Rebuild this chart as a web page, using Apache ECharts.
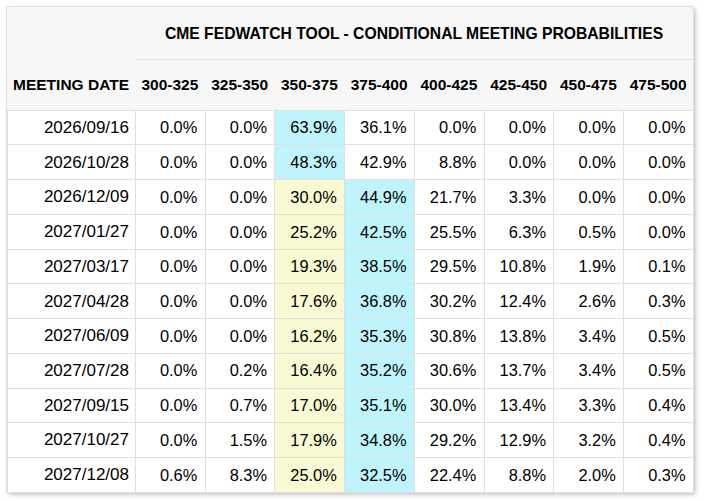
<!DOCTYPE html>
<html>
<head>
<meta charset="utf-8">
<script src="https://cdn.jsdelivr.net/npm/echarts@6/dist/echarts.min.js"></script>
<style>
html, body { margin: 0; padding: 0; background: #fff; }
#chart { width: 707px; height: 501px; }
</style>
</head>
<body>
<div id="chart"></div>
<script>
var title = 'CME FEDWATCH TOOL - CONDITIONAL MEETING PROBABILITIES';
var dateHeader = 'MEETING DATE';
var ranges = ['300-325', '325-350', '350-375', '375-400', '400-425', '425-450', '450-475', '475-500'];
var currentRange = '350-375';
var dates = [
    '2026/09/16', '2026/10/28', '2026/12/09', '2027/01/27', '2027/03/17', '2027/04/28',
    '2027/06/09', '2027/07/28', '2027/09/15', '2027/10/27', '2027/12/08'
];
// one row per meeting, one value per range (percent)
var probabilities = [
    [0.0, 0.0, 63.9, 36.1, 0.0, 0.0, 0.0, 0.0],
    [0.0, 0.0, 48.3, 42.9, 8.8, 0.0, 0.0, 0.0],
    [0.0, 0.0, 30.0, 44.9, 21.7, 3.3, 0.0, 0.0],
    [0.0, 0.0, 25.2, 42.5, 25.5, 6.3, 0.5, 0.0],
    [0.0, 0.0, 19.3, 38.5, 29.5, 10.8, 1.9, 0.1],
    [0.0, 0.0, 17.6, 36.8, 30.2, 12.4, 2.6, 0.3],
    [0.0, 0.0, 16.2, 35.3, 30.8, 13.8, 3.4, 0.5],
    [0.0, 0.2, 16.4, 35.2, 30.6, 13.7, 3.4, 0.5],
    [0.0, 0.7, 17.0, 35.1, 30.0, 13.4, 3.3, 0.4],
    [0.0, 1.5, 17.9, 34.8, 29.2, 12.9, 3.2, 0.4],
    [0.6, 8.3, 25.0, 32.5, 22.4, 8.8, 2.0, 0.3]
];

var font = '"Liberation Sans", Arial, sans-serif';
var lineColor = '#e0e0e0';
var maxColor = '#c0f4fc';
var currentColor = '#f9f9d4';

var cells = [];
probabilities.forEach(function(row, i) {
    var rowMax = Math.max.apply(null, row);
    row.forEach(function(v, j) {
        cells.push([j, i, v, v === rowMax ? 1 : 0]);
    });
});
var currentIndex = ranges.indexOf(currentRange);

var myChart = echarts.init(document.getElementById('chart'), null, { renderer: 'svg' });

var headerLabel = {
    interval: 0,
    margin: 25.5,
    verticalAlign: 'middle',
    color: '#000',
    fontFamily: font,
    fontWeight: 'bold',
    fontSize: 15.5
};

var option = {
    animation: false,
    backgroundColor: '#fff',
    grid: [
        { left: 7, top: 110, width: 128, height: 382, outerBoundsMode: 'none' },
        { left: 135, top: 110, width: 558, height: 382, outerBoundsMode: 'none' }
    ],
    xAxis: [{
        gridIndex: 0,
        type: 'category',
        data: [dateHeader],
        position: 'top',
        z: 5,
        axisLine: { lineStyle: { color: lineColor } },
        axisTick: { length: 103, lineStyle: { color: lineColor } },
        axisLabel: headerLabel,
        splitLine: { show: true, interval: 0, lineStyle: { color: lineColor } }
    }, {
        gridIndex: 1,
        type: 'category',
        data: ranges,
        position: 'top',
        z: 5,
        axisLine: { lineStyle: { color: lineColor } },
        axisTick: { length: 51, interval: 0, lineStyle: { color: lineColor } },
        axisLabel: headerLabel,
        splitLine: { show: true, interval: 0, lineStyle: { color: lineColor } }
    }],
    yAxis: [{
        gridIndex: 0,
        type: 'category',
        data: dates,
        inverse: true,
        position: 'right',
        z: 5,
        axisLine: { show: false },
        axisTick: { show: false },
        axisLabel: {
            inside: true,
            interval: 0,
            margin: 6,
            color: '#000',
            fontFamily: font,
            fontSize: 17
        },
        splitLine: { show: true, interval: 0, lineStyle: { color: lineColor } }
    }, {
        gridIndex: 1,
        type: 'category',
        data: dates,
        inverse: true,
        z: 5,
        axisLine: { show: false },
        axisTick: { show: false },
        axisLabel: { show: false },
        splitLine: { show: true, interval: 0, lineStyle: { color: lineColor } }
    }],
    graphic: [{
        type: 'rect',
        z: -10,
        shape: { x: 7, y: 7, width: 686, height: 485 },
        style: {
            fill: '#fff',
            shadowBlur: 5,
            shadowOffsetX: 2,
            shadowOffsetY: 2,
            shadowColor: 'rgba(0,0,0,0.3)'
        }
    }, {
        type: 'rect',
        z: -9,
        shape: { x: 7, y: 7, width: 686, height: 103 },
        style: { fill: '#f7f7f7' }
    }, {
        type: 'line',
        z: 10,
        shape: { x1: 135, y1: 59.5, x2: 693, y2: 59.5 },
        style: { stroke: lineColor, lineWidth: 1 }
    }, {
        type: 'text',
        z: 10,
        style: {
            text: title,
            x: 414,
            y: 33,
            align: 'center',
            verticalAlign: 'middle',
            fill: '#000',
            font: 'bold 15.7px ' + font
        }
    }, {
        type: 'rect',
        z: 20,
        shape: { x: 6.5, y: 6.5, width: 687, height: 486 },
        style: { fill: 'none', stroke: lineColor, lineWidth: 1 }
    }],
    series: [{
        type: 'custom',
        xAxisIndex: 1,
        yAxisIndex: 1,
        z: 2,
        data: cells,
        renderItem: function(params, api) {
            var j = api.value(0), i = api.value(1);
            var c = api.coord([j, i]);
            var s = api.size([1, 1]);
            var fill = api.value(3) ? maxColor : (j === currentIndex ? currentColor : null);
            var children = [];
            if (fill) {
                children.push({
                    type: 'rect',
                    shape: { x: c[0] - s[0] / 2, y: c[1] - s[1] / 2, width: s[0], height: s[1] },
                    style: { fill: fill }
                });
            }
            children.push({
                type: 'text',
                style: {
                    text: api.value(2).toFixed(1) + '%',
                    x: c[0] + s[0] / 2 - 7.5,
                    y: c[1],
                    align: 'right',
                    verticalAlign: 'middle',
                    fill: '#000',
                    font: '16.4px ' + font
                }
            });
            return { type: 'group', children: children };
        }
    }]
};

myChart.setOption(option);
</script>
</body>
</html>
